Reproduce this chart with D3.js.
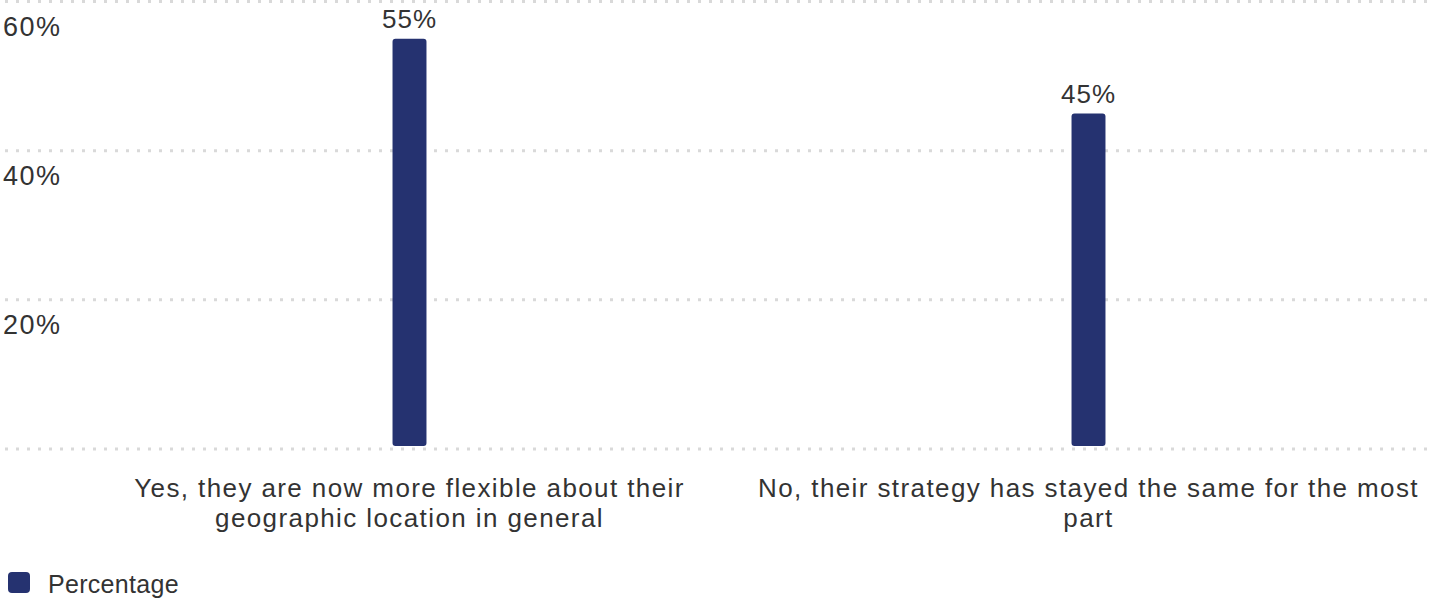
<!DOCTYPE html>
<html lang="en">
<head>
  <meta charset="UTF-8">
  <title>Percentage</title>
  <style>
    body {
      margin: 0;
      background: #fff;
      font-family: "Liberation Sans", Arial, sans-serif;
    }
    .grid line {
      stroke: #d9d9d9;
      stroke-width: 3px;
      stroke-dasharray: 3 8;
    }
    text {
      fill: #333;
    }
  </style>
</head>
<body>
  <svg></svg>
  <script src="https://d3js.org/d3.v7.min.js"></script>
  <script>
    const categories = [
      "Yes, they are now more flexible about their geographic location in general",
      "No, their strategy has stayed the same for the most part"
    ];
    const values = [55, 45];
    const yTicks = [20, 40, 60];
    const seriesName = "Percentage";

    const width = 1429, height = 598;
    const barColor = "#253270";

    const svg = d3.select("svg")
      .attr("width", width)
      .attr("height", height);

    const x = d3.scaleBand()
      .domain(categories)
      .range([70, 1428])
      .paddingInner(0.95)
      .paddingOuter(0.475);

    const y = d3.scaleLinear()
      .domain([0, 60])
      .range([449, 1.5]);

    // gridlines (incl. baseline)
    svg.append("g")
      .attr("class", "grid")
      .selectAll("line")
      .data([0].concat(yTicks))
      .join("line")
      .attr("x1", 5)
      .attr("x2", width)
      .attr("y1", d => y(d))
      .attr("y2", d => y(d));

    // y labels sit just under their gridline
    svg.append("g")
      .selectAll("text")
      .data(yTicks)
      .join("text")
      .attr("x", 3)
      .attr("y", d => y(d) + 34)
      .style("font-size", "27px")
      .style("letter-spacing", "1.5px")
      .text(d => d + "%");

    // bars
    svg.append("g")
      .selectAll("rect")
      .data(values)
      .join("rect")
      .attr("x", (d, i) => x(categories[i]))
      .attr("y", d => y(d))
      .attr("width", x.bandwidth())
      .attr("height", d => y(0) - y(d) - 3)
      .attr("rx", 3)
      .attr("fill", barColor);

    // value labels
    svg.append("g")
      .selectAll("text")
      .data(values)
      .join("text")
      .attr("x", (d, i) => x(categories[i]) + x.bandwidth() / 2)
      .attr("y", d => y(d) - 10.5)
      .attr("text-anchor", "middle")
      .style("font-size", "26px")
      .style("letter-spacing", "1px")
      .text(d => d + "%");

    // category labels, wrapped
    function wrap(sel, maxW) {
      sel.each(function(d) {
        const t = d3.select(this);
        const words = d.split(" ");
        const cx = +t.attr("x");
        let line = [];
        let tspan = t.append("tspan").attr("x", cx).attr("dy", 0);
        words.forEach(w => {
          line.push(w);
          tspan.text(line.join(" "));
          if (tspan.node().getComputedTextLength() > maxW && line.length > 1) {
            line.pop();
            tspan.text(line.join(" "));
            line = [w];
            tspan = t.append("tspan").attr("x", cx).attr("dy", 30).text(w);
          }
        });
      });
    }

    svg.append("g")
      .selectAll("text")
      .data(categories)
      .join("text")
      .attr("x", d => x(d) + x.bandwidth() / 2)
      .attr("y", 497)
      .attr("text-anchor", "middle")
      .style("font-size", "26px")
      .style("letter-spacing", "1.4px")
      .call(wrap, x.step());

    // legend
    const legend = svg.append("g").attr("transform", "translate(8,572)");
    legend.append("rect")
      .attr("width", 22)
      .attr("height", 21)
      .attr("rx", 4)
      .attr("fill", barColor);
    legend.append("text")
      .attr("x", 40)
      .attr("y", 21)
      .style("font-size", "25px")
      .style("letter-spacing", "0.3px")
      .text(seriesName);
  </script>
</body>
</html>
